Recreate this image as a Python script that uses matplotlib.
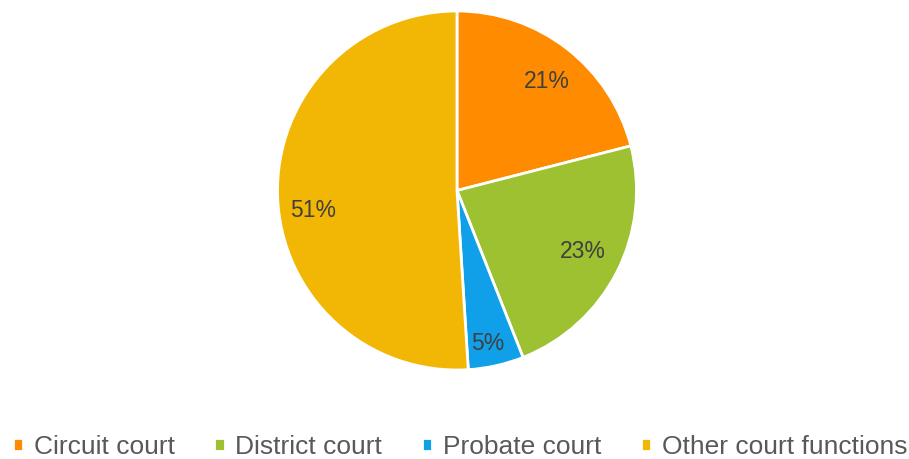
import numpy as np
import matplotlib.pyplot as plt
import matplotlib
matplotlib.rcParams.update({'font.family': ['Liberation Sans', 'DejaVu Sans']})

# court spending shares (%)
labels = ['Circuit court', 'District court', 'Probate court', 'Other court functions']
shares = [21, 23, 5, 51]
colors = ['#FF8B00', '#9DC130', '#0FA0E9', '#F2B705']
# where each percentage label sits, in pie-radius units
label_xy = [(0.50, 0.61), (0.70, -0.34), (0.17, -0.85), (-0.80, -0.11)]

W, H = 909, 459
fig = plt.figure(figsize=(W/100, H/100), dpi=100)
cx, cy, r = 457, 190.5, 179.5
ax = fig.add_axes([(cx-r)/W, (H-cy-r)/H, 2*r/W, 2*r/H])

wedges, texts, autotexts = ax.pie(shares, colors=colors, startangle=90, counterclock=False,
                                  autopct='%1.0f%%', pctdistance=0.79,
                                  wedgeprops=dict(edgecolor='white', linewidth=2),
                                  textprops=dict(fontsize=16.5, color='#404040'))
ax.set_aspect('equal')
ax.set_xlim(-1, 1)
ax.set_ylim(-1, 1)

for t, xy in zip(autotexts, label_xy):
    t.set_position(xy)

fig.legend(wedges, labels, loc='center', bbox_to_anchor=(460/W, 1-447/H), ncol=4,
           frameon=False, fontsize=19, labelcolor='#595959',
           handlelength=0.4, handleheight=0.4, handletextpad=0.4, columnspacing=1.5,
           borderaxespad=0, borderpad=0)

fig.savefig('out.png', dpi=100)
